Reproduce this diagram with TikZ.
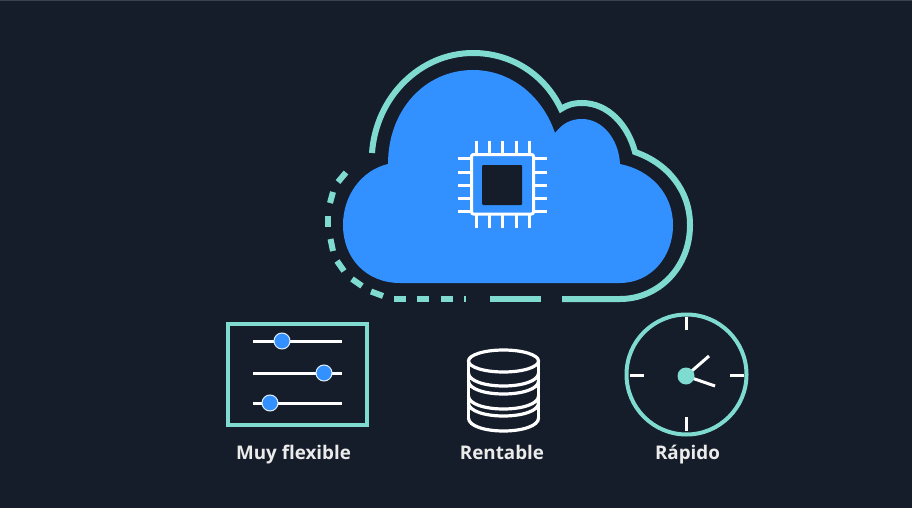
\documentclass[tikz,border=0pt]{standalone}
\usepackage{fontspec}
\setmainfont{Open Sans}[BoldFont={Open Sans Bold}]
\definecolor{bgc}{HTML}{161D2A}
\definecolor{topline}{HTML}{3A4450}
\definecolor{teal1}{HTML}{7FDBD0}
\definecolor{blue1}{HTML}{3390FF}
\tikzset{
  ring/.style={draw=teal1,line width=6pt},
  wline/.style={draw=white,line width=3pt},
  dbline/.style={draw=white,line width=3.2pt},
  knob/.style={circle,fill=blue1,draw=white!85!blue1,line width=1pt,minimum size=16pt,inner sep=0pt},
  hubdot/.style={circle,fill=teal1,minimum size=17pt,inner sep=0pt},
  lbl/.style={text=white!92!black,font=\bfseries\fontsize{18.8}{21}\selectfont,inner sep=0pt,anchor=base},
}
\newcommand{\dbarc}[1]{\draw[dbline] (468.5,#1) .. controls (468.5,#1+8) and (485,#1+13) .. (503.5,#1+13) .. controls (522,#1+13) and (538.5,#1+8) .. (538.5,#1);}
\begin{document}
\begin{tikzpicture}[x=1pt,y=-1pt]
\fill[bgc] (0,0) rectangle (912,508);
\fill[topline] (0,0) rectangle (912,1.2);
\useasboundingbox (0,0) rectangle (912,508);
% cloud
\fill[blue1] (400,283) .. controls (366,283) and (343,258) .. (343,225)
  .. controls (343,195) and (362,170) .. (388,164)
  .. controls (388,110) and (425,70) .. (473,70)
  .. controls (510,70) and (542,95) .. (555,133)
  .. controls (562,124) and (570,119) .. (582,119)
  .. controls (603,119) and (619,140) .. (620,164)
  .. controls (650,170) and (673,193) .. (673,225)
  .. controls (673,258) and (650,283) .. (620,283) -- cycle;
% outline
\draw[ring] (372,153) .. controls (376,97) and (420,53) .. (473,53)
  .. controls (512,53) and (545,75) .. (561,109)
  .. controls (567,105) and (573,103) .. (582,103)
  .. controls (608,103) and (628,125) .. (635,152)
  .. controls (667,163) and (690,190) .. (690,225)
  .. controls (690,268) and (658,299) .. (620,299) -- (562,299);
\draw[ring] (490,299) -- (541,299);
\draw[ring] (441,298.5) -- (453,298.5);
\draw[ring] (417,298.5) -- (429,298.5);
\draw[ring] (394,298.5) -- (406,298.5);
\draw[ring] (371,291.5) -- (383,296);
\draw[ring] (352,279) -- (362,286);
\draw[ring] (337,261) -- (344,271);
\draw[ring] (330.5,239) -- (333,251);
\draw[ring] (328,216) -- (328,227);
\draw[ring] (333,192) -- (330,203);
\draw[ring] (346,172.5) -- (338,182);
\draw[teal1,line width=1.5pt] (465,296) -- (465,302);
% chip
\draw[wline,rounded corners=2pt] (471.5,154.5) rectangle (533.5,214);
\fill[bgc,rounded corners=1pt] (482,165) rectangle (522,205);
\foreach \x in {476,489,502,516,529}{
  \draw[wline] (\x,141) -- (\x,154);
  \draw[wline] (\x,214) -- (\x,228);
}
\foreach \y in {158,172,185,198,211}{
  \draw[wline] (458,\y) -- (471,\y);
  \draw[wline] (534,\y) -- (547,\y);
}
% sliders
\draw[draw=teal1,line width=4pt] (228,324) rectangle (367,425);
\foreach \y in {341,373,403}{\draw[wline] (253,\y) -- (342,\y);}
\node[knob] (k1) at (282,341) {};
\node[knob] (k2) at (324,373) {};
\node[knob] (k3) at (270,403) {};
% database
\draw[dbline] (503.5,361) ellipse [x radius=35,y radius=11];
\draw[dbline] (468.5,361) -- (468.5,419);
\draw[dbline] (538.5,361) -- (538.5,419);
\dbarc{373}
\dbarc{381}
\dbarc{396}
\dbarc{403}
\dbarc{418}
% clock
\draw[draw=teal1,line width=4pt] (686.5,374.5) circle [radius=60];
\draw[wline] (686.5,317) -- (686.5,330);
\draw[wline] (686.5,417) -- (686.5,431);
\draw[wline] (630,375.5) -- (644,375.5);
\draw[wline] (730,375.5) -- (744,375.5);
\coordinate (h1) at (709,356);
\coordinate (h2) at (715,386);
\coordinate (hc) at (686,376);
\draw[wline] (hc) -- (h1);
\draw[wline] (hc) -- (h2);
\node[hubdot] (hub) at (hc) {};
% labels
\node[lbl] (l1) at (293.5,459) {Muy flexible};
\node[lbl] (l2) at (502,459) {Rentable};
\node[lbl] (l3) at (687.5,459) {Rápido};
\end{tikzpicture}
\end{document}
